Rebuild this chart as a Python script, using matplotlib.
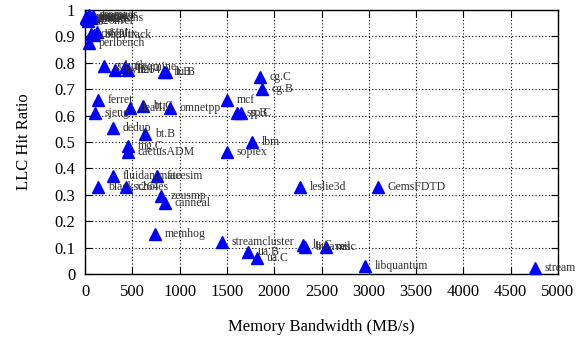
import matplotlib
matplotlib.use("Agg")
import matplotlib.pyplot as plt

plt.rcParams['font.family'] = ['Liberation Serif', 'DejaVu Serif']

# benchmark name, memory bandwidth (MB/s), LLC hit ratio
names = ["gromacs", "povray", "namd", "gamess", "hmmer", "h264ref", "tonto", "swaptions",
         "astar", "bodytrack", "calculix", "perlbench",
         "gobmk", "swim", "freqmine", "h264", "ft.B", "lu.B",
         "cg.C", "cg.B", "mcf", "sp.B", "sp.C",
         "ferret", "sjeng", "dealII", "bt.C", "omnetpp",
         "dedup", "bt.B", "mg.C", "cactusADM", "lbm", "soplex",
         "fluidanimate", "facesim", "blackscholes", "x264", "zeusmp", "canneal",
         "leslie3d", "GemsFDTD",
         "memhog", "streamcluster", "ua.B", "ua.C", "lu.C", "bwaves", "milc",
         "libquantum", "stream"]
bandwidth = [40, 10, 60, 20, 80, 30, 50, 15,
             130, 100, 60, 40,
             200, 317, 423, 455, 830, 860,
             1850, 1870, 1500, 1607, 1650,
             137, 106, 476, 613, 900,
             296, 634, 455, 455, 1765, 1500,
             296, 761, 137, 433, 803, 846,
             2273, 3097,
             740, 1448, 1723, 1818, 2300, 2326, 2548,
             2960, 4757]
hit_ratio = [0.98, 0.975, 0.97, 0.965, 0.978, 0.96, 0.972, 0.968,
             0.915, 0.905, 0.91, 0.875,
             0.788, 0.773, 0.784, 0.773, 0.765, 0.765,
             0.746, 0.70, 0.66, 0.61, 0.61,
             0.66, 0.61, 0.63, 0.636, 0.63,
             0.553, 0.53, 0.485, 0.462, 0.50, 0.462,
             0.371, 0.371, 0.33, 0.33, 0.295, 0.27,
             0.33, 0.33,
             0.152, 0.121, 0.083, 0.061, 0.108, 0.104, 0.102,
             0.03, 0.022]

fig = plt.figure(figsize=(5.82, 3.41), dpi=100)
ax = fig.add_axes([85 / 582, 1 - 274 / 341, 473 / 582, 264 / 341])

ax.plot(bandwidth, hit_ratio, linestyle='none', marker='^', color='#0000ff',
        markersize=8, clip_on=False, zorder=3)
for n, x, y in zip(names, bandwidth, hit_ratio):
    ax.annotate(n, (x, y), xytext=(7, 0), textcoords='offset points',
                va='center', ha='left', fontsize=8.5, color='#333333',
                annotation_clip=False)

ax.set_xlim(0, 5000)
ax.set_ylim(0, 1)
ax.set_xticks(range(0, 5001, 500))
ax.set_yticks([i / 10 for i in range(11)])
ax.set_yticklabels(["0", "0.1", "0.2", "0.3", "0.4", "0.5", "0.6", "0.7", "0.8", "0.9", "1"])
ax.tick_params(direction='in', top=True, right=True, labelsize=12, length=5, pad=7)
ax.grid(True, color='black', linestyle=(0, (1, 2)), linewidth=0.8)
ax.set_axisbelow(True)
for s in ax.spines.values():
    s.set_linewidth(1.0)

ax.set_xlabel("Memory Bandwidth (MB/s)", fontsize=12, labelpad=14)
ax.set_ylabel("LLC Hit Ratio", fontsize=12, labelpad=16)

fig.savefig("out.png", dpi=100)
